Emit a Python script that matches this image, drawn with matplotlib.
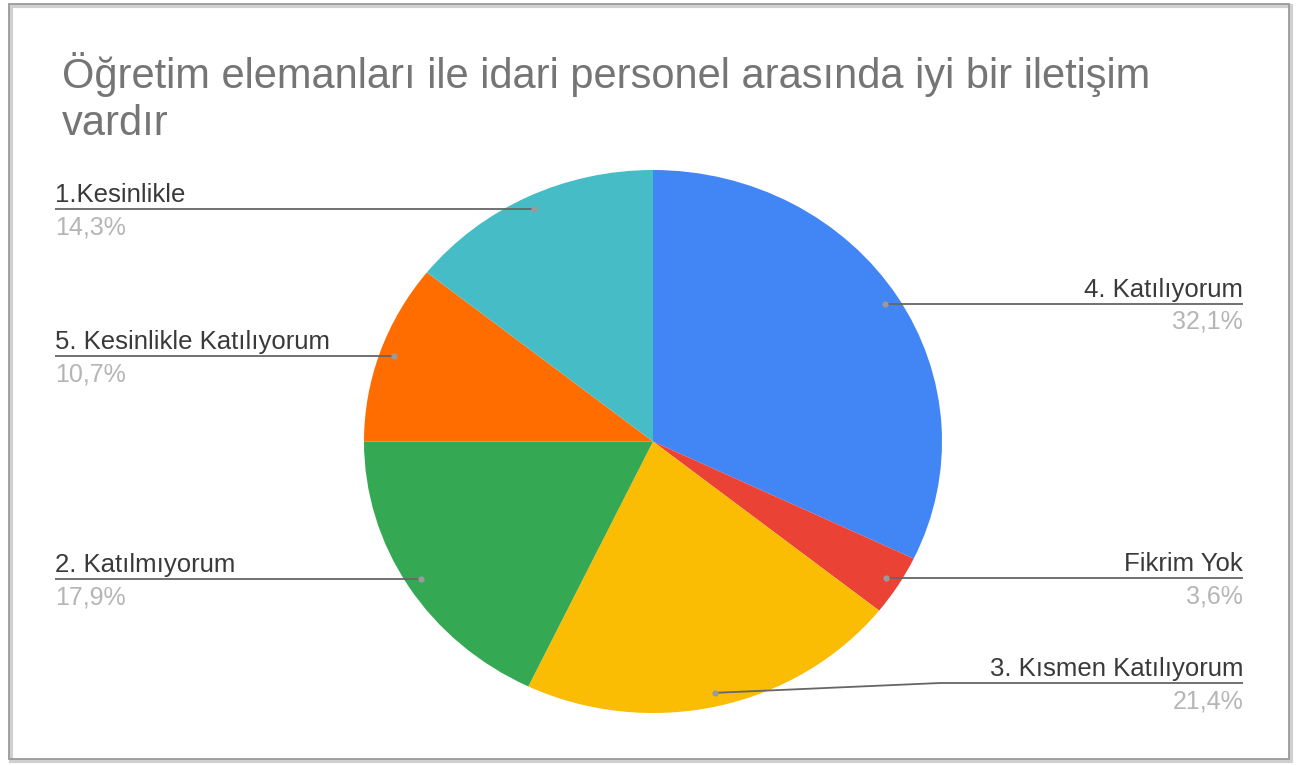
import matplotlib.pyplot as plt
import numpy as np
from matplotlib.patches import Rectangle

plt.rcParams['font.family'] = ['Liberation Sans', 'DejaVu Sans']

title_lines = ['Öğretim elemanları ile idari personel arasında iyi bir iletişim', 'vardır']
labels = ['4. Katılıyorum', 'Fikrim Yok', '3. Kısmen Katılıyorum',
          '2. Katılmıyorum', '5. Kesinlikle Katılıyorum', '1.Kesinlikle']
values = [32.1, 3.6, 21.4, 17.9, 10.7, 14.3]
pct_text = ['32,1%', '3,6%', '21,4%', '17,9%', '10,7%', '14,3%']
colors = ['#4285F4', '#EA4335', '#FBBC04', '#34A853', '#FF6D01', '#46BDC6']

W, H = 1303, 766
fig = plt.figure(figsize=(W / 100, H / 100), dpi=100)

# pie box in pixels (source image is a little stretched sideways)
px0, px1, py0, py1 = 364, 942, 170, 713
cx, cy = (px0 + px1) / 2, (py0 + py1) / 2
rx, ry = (px1 - px0) / 2, (py1 - py0) / 2

ax = fig.add_axes([px0 / W, 1 - py1 / H, (px1 - px0) / W, (py1 - py0) / H])
wedges, _ = ax.pie(values, colors=colors, startangle=90, counterclock=False, radius=1)
ax.set_aspect('auto')
ax.set_xlim(-1, 1)
ax.set_ylim(-1, 1)
ax.axis('off')

ov = fig.add_axes([0, 0, 1, 1], zorder=5)
ov.set_xlim(0, W)
ov.set_ylim(H, 0)
ov.axis('off')

# frame with a soft shadow
ov.add_patch(Rectangle((11, 6), 1280, 755, fill=False, edgecolor='#d0d0d0', lw=3))
ov.add_patch(Rectangle((9, 4), 1280, 755, fill=False, edgecolor='#9a9a9a', lw=1.3))

ov.text(62, 88, title_lines[0], fontsize=30, color='#757575', va='baseline')
ov.text(62, 135, title_lines[1], fontsize=30, color='#757575', va='baseline')

left_x, right_x = 55, 1243
line_y_override = {'3. Kısmen Katılıyorum': 683}
elbow_x = 940

for w, lab, pct in zip(wedges, labels, pct_text):
    ang = np.deg2rad((w.theta1 + w.theta2) / 2)
    dx = cx + rx * 0.95 * np.cos(ang)
    dy = cy - ry * 0.95 * np.sin(ang)
    ly = line_y_override.get(lab, dy)
    if np.cos(ang) < 0:
        xs, ys = [left_x, dx], [ly, dy]
        tx, ha = left_x, 'left'
    else:
        if ly != dy:
            xs, ys = [dx, elbow_x, right_x], [dy, ly, ly]
        else:
            xs, ys = [dx, right_x], [dy, ly]
        tx, ha = right_x, 'right'
    ov.plot(xs, ys, color='#666666', lw=1.3, solid_capstyle='butt')
    ov.plot([dx], [dy], 'o', color='#9a9a9a', ms=4.5, mec='none')
    ov.text(tx, ly - 7, lab, fontsize=18.5, color='#3a3a3a', ha=ha, va='baseline')
    ov.text(tx, ly + 25, pct, fontsize=18, color='#b5b5b5', ha=ha, va='baseline')

fig.savefig('out.png', dpi=100, facecolor='white')
